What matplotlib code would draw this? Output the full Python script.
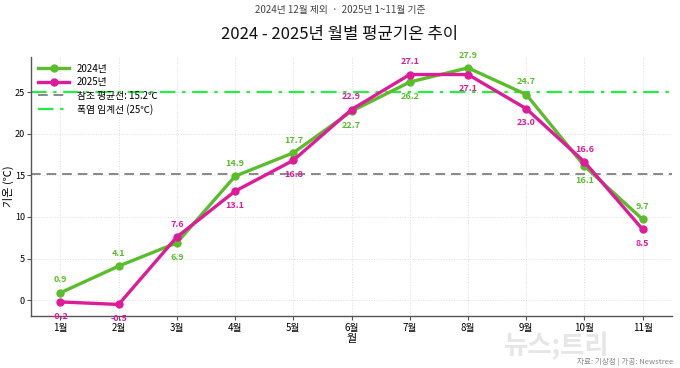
import matplotlib
matplotlib.use("Agg")
import matplotlib.pyplot as plt

plt.rcParams['font.family'] = ['Noto Sans CJK KR', 'DejaVu Sans']
plt.rcParams['axes.unicode_minus'] = False

months = list(range(1, 12))
month_labels = [f"{m}월" for m in months]
temps_2024 = [0.9, 4.1, 6.9, 14.9, 17.7, 22.7, 26.2, 27.9, 24.7, 16.1, 9.7]
temps_2025 = [-0.2, -0.5, 7.6, 13.1, 16.8, 22.9, 27.1, 27.1, 23.0, 16.6, 8.5]
ref_mean = 15.2
heat_threshold = 25
yticks = [0, 5, 10, 15, 20, 25]

c24 = '#5cbd2c'
c25 = '#dd1c9a'

fig = plt.figure(figsize=(6.8, 3.68), dpi=100)
ax = fig.add_axes([0.046, 0.141, 0.942, 0.704])

ax.plot(months, temps_2024, color=c24, lw=2.4, marker='o', ms=5, label='2024년', zorder=4)
ax.plot(months, temps_2025, color=c25, lw=2.4, marker='o', ms=5, label='2025년', zorder=5)
ax.axhline(ref_mean, color='#888888', ls=(0, (5, 3)), lw=1.4, label=f'참조 평균선: {ref_mean}℃', zorder=2)
ax.axhline(heat_threshold, color='#22ee44', ls=(0, (7, 3, 1.5, 3)), lw=1.6, label=f'폭염 임계선 ({heat_threshold}℃)', zorder=2)

for m, a, b in zip(months, temps_2024, temps_2025):
    up24 = a > b
    ax.annotate(f"{a:.1f}", (m, a), xytext=(0, 6 if up24 else -7), textcoords='offset points',
                ha='center', va='bottom' if up24 else 'top', fontsize=6.5, color=c24, fontweight='bold')
    ax.annotate(f"{b:.1f}", (m, b), xytext=(0, -7 if up24 else 6), textcoords='offset points',
                ha='center', va='top' if up24 else 'bottom', fontsize=6.5, color=c25, fontweight='bold')

ax.set_xlim(0.5, 11.5)
ax.set_ylim(-1.9, 29.2)
ax.set_xticks(months)
ax.set_xticklabels(month_labels, fontsize=7)
ax.set_yticks(yticks)
ax.set_yticklabels([str(t) for t in yticks], fontsize=6.5)
ax.tick_params(length=3, color='#555555', pad=2)
ax.tick_params(axis='y', pad=1.5)
ax.grid(True, ls=':', color='#dddddd', lw=0.7)
ax.set_axisbelow(True)
for s in ['top', 'right']:
    ax.spines[s].set_visible(False)
for s in ['left', 'bottom']:
    ax.spines[s].set_color('#555555')
    ax.spines[s].set_linewidth(1.0)

ax.set_xlabel('월', fontsize=8, labelpad=1)
ax.set_ylabel('기온 (℃)', fontsize=8)
ax.yaxis.set_label_coords(-0.027, 0.5)

leg = ax.legend(loc='upper left', frameon=False, fontsize=7, handlelength=3.2,
                borderaxespad=0.3, labelspacing=0.35)

fig.text(0.5, 0.972, '2024년 12월 제외  ·  2025년 1~11월 기준', ha='center', va='center',
         fontsize=7, color='#444444')
fig.text(0.5, 0.905, '2024 - 2025년 월별 평균기온 추이', ha='center', va='center',
         fontsize=12, color='#111111')
fig.text(0.818, 0.06, '뉴스;트리', ha='center', va='center', fontsize=19,
         fontweight='bold', color='#e6e6e6', zorder=0)
fig.text(0.99, 0.017, '자료: 기상청 | 가공: Newstree', ha='right', va='center',
         fontsize=5.5, color='#888888', zorder=3)

fig.savefig('out.png', dpi=100)
